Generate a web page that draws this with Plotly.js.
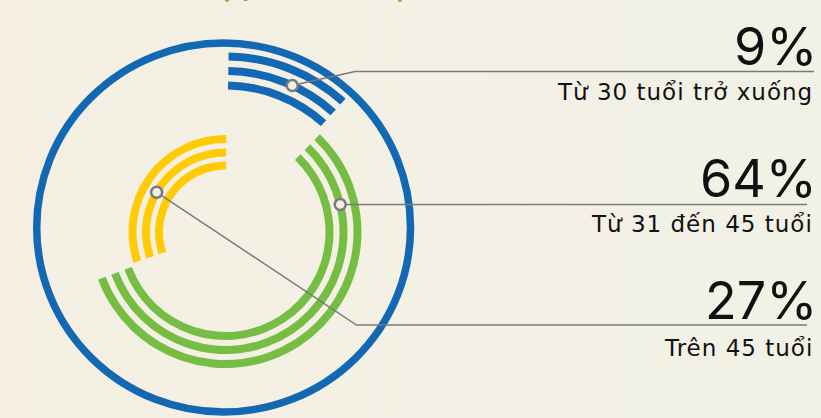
<!DOCTYPE html>
<html>
<head>
<meta charset="utf-8">
<script src="https://cdn.plot.ly/plotly-3.0.1.min.js"></script>
<style>
  html, body { margin:0; padding:0; width:821px; height:418px; overflow:hidden;
    background: linear-gradient(to right, #f5efe3, #f1f1e6); }
  #chart { width:821px; height:418px; }
</style>
</head>
<body>
<div id="chart"></div>
<script>
// ---- data ----
const titleText = 'Cơ cấu nhân sự phân theo độ tuổi';
const categories = ['Từ 30 tuổi trở xuống', 'Từ 31 đến 45 tuổi', 'Trên 45 tuổi'];
const percents = [9, 64, 27];
const arcStartDeg = [1, 44, 251.5];     // arc start angle (clockwise from 12 o'clock)
const arcEndDeg = [42, 249.5, 360.5];   // arc end angle
const markerDeg = [24.5, 76.5, 300];    // where the leader marker sits on each arc

// ---- layout / style ----
const W = 821, H = 418;
const cx = 225.5, cy = 232, R = 186;            // polar centre & radius (px)
const ringRadii = [[146.5, 161, 175.5], [104, 118, 132], [66.5, 79.5, 93]];
const thick = 8;
const colors = ['#1368b3', '#76bd43', '#ffcb05'];
const lineColor = '#7a7a7a';

const traces = [];
categories.forEach((c, i) => {
  const span = arcEndDeg[i] - arcStartDeg[i];
  const mid = (arcStartDeg[i] + arcEndDeg[i]) / 2;
  traces.push({
    type: 'barpolar',
    r: ringRadii[i].map(() => thick),
    base: ringRadii[i].map(r => r - thick / 2),
    theta: ringRadii[i].map(() => mid),
    width: ringRadii[i].map(() => span),
    marker: { color: colors[i], line: { width: 0 } },
    hoverinfo: 'skip', showlegend: false
  });
});
traces.push({
  type: 'scatterpolar', mode: 'markers',
  r: ringRadii.map(rr => rr[1]), theta: markerDeg,
  marker: { size: 11, color: '#f3efe3', line: { color: lineColor, width: 2.5 } },
  hoverinfo: 'skip', showlegend: false, cliponaxis: false
});

// pixel helpers
const px = (r, th) => [cx + r * Math.sin(th * Math.PI / 180), cy - r * Math.cos(th * Math.PI / 180)];
const X = p => p / W, Y = p => 1 - p / H;

// leader lines
const elbows = [[355, 71.5], null, [356.5, 325]];
const lineEndX = [814, 807, 807];
const shapes = [{
  type: 'circle', xref: 'paper', yref: 'paper', layer: 'below',
  x0: X(36.7), x1: X(410.5), y0: Y(412), y1: Y(43),
  line: { color: colors[0], width: 7.5 }, fillcolor: 'rgba(0,0,0,0)'
}];
categories.forEach((c, i) => {
  const m = px(ringRadii[i][1], markerDeg[i]);
  const target = elbows[i] ? elbows[i] : [lineEndX[i], m[1]];
  const dx = target[0] - m[0], dy = target[1] - m[1], d = Math.hypot(dx, dy);
  const s = [m[0] + dx / d * 6.5, m[1] + dy / d * 6.5];
  let path = `M${X(s[0])},${Y(s[1])}`;
  if (elbows[i]) {
    path += ` L${X(elbows[i][0])},${Y(elbows[i][1])} L${X(lineEndX[i])},${Y(elbows[i][1])}`;
  } else {
    path += ` L${X(lineEndX[i])},${Y(m[1])}`;
  }
  shapes.push({ type: 'path', xref: 'paper', yref: 'paper', layer: 'above', path,
    line: { color: lineColor, width: 1.5 } });
});

// labels
const pctY = [46, 178, 300];
const catY = [92, 224, 348];
const annotations = [];
categories.forEach((c, i) => {
  annotations.push({ xref: 'paper', yref: 'paper', x: X(819), y: Y(pctY[i]),
    xanchor: 'right', yanchor: 'middle', showarrow: false, text: percents[i] + '%',
    font: { family: 'Inter, sans-serif', size: 52, color: '#111111' } });
  annotations.push({ xref: 'paper', yref: 'paper', x: X(815), y: Y(catY[i]),
    xanchor: 'right', yanchor: 'middle', showarrow: false,
    text: `<span style="letter-spacing:1px">${c}</span>`,
    font: { family: 'DejaVu Sans, sans-serif', size: 23, color: '#111111' } });
});
annotations.push({ xref: 'paper', yref: 'paper', x: X(38), y: Y(4),
  xanchor: 'left', yanchor: 'bottom', showarrow: false, text: titleText,
  font: { family: 'Inter, sans-serif', size: 26, weight: 700, color: '#76bd43' } });

const layout = {
  width: W, height: H,
  margin: { l: 0, r: 0, t: 0, b: 0 },
  paper_bgcolor: 'rgba(0,0,0,0)', plot_bgcolor: 'rgba(0,0,0,0)',
  showlegend: false,
  polar: {
    domain: { x: [X(cx - R), X(cx + R)], y: [Y(cy + R), Y(cy - R)] },
    bgcolor: 'rgba(0,0,0,0)',
    hole: 0,
    barmode: 'overlay',
    angularaxis: { rotation: 90, direction: 'clockwise', visible: false },
    radialaxis: { range: [0, R], visible: false }
  },
  shapes, annotations
};
Plotly.newPlot('chart', traces, layout, { displayModeBar: false, staticPlot: true });
</script>
</body>
</html>
